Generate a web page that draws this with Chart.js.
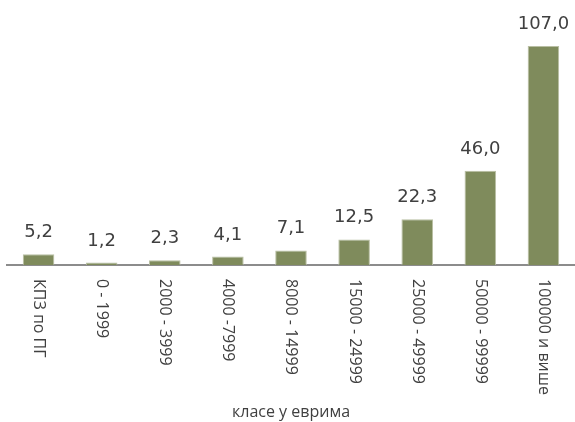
<!DOCTYPE html>
<html>
<head>
<meta charset="utf-8">
<script src="https://cdn.jsdelivr.net/npm/chart.js@4"></script>
<style>
  html, body { margin: 0; padding: 0; background: #fff; }
  #wrap { width: 575px; height: 422px; }
</style>
</head>
<body>
<div id="wrap"><canvas id="chart"></canvas></div>
<script>
// Data
const categories = ["КПЗ по ПГ", "0 - 1999", "2000 - 3999", "4000 -7999", "8000 - 14999",
                    "15000 - 24999", "25000 - 49999", "50000 - 99999", "100000 и више"];
const values     = [5.2, 1.2, 2.3, 4.1, 7.1, 12.5, 22.3, 46.0, 107.0];
const axisTitle  = "класе у еврима";

const barColor  = "#7f8b5c";
const textColor = "#404040";

// value labels above bars
const valueLabels = {
    id: "valueLabels",
    afterDatasetsDraw(chart) {
        const ctx = chart.ctx;
        const meta = chart.getDatasetMeta(0);
        ctx.save();
        ctx.font = "18px 'DejaVu Sans'";
        ctx.fillStyle = textColor;
        ctx.textAlign = "center";
        ctx.textBaseline = "alphabetic";
        meta.data.forEach((bar, i) => {
            ctx.fillText(values[i].toFixed(1).replace(".", ","), bar.x, bar.y - 17);
        });
        ctx.restore();
    }
};

// category labels, rotated to read top to bottom
const rotatedTicks = {
    id: "rotatedTicks",
    afterDraw(chart) {
        const ctx = chart.ctx;
        const x = chart.scales.x;
        ctx.save();
        ctx.font = "16px 'Open Sans'";
        ctx.fillStyle = textColor;
        ctx.textAlign = "left";
        ctx.textBaseline = "middle";
        categories.forEach((label, i) => {
            ctx.save();
            ctx.translate(x.getPixelForValue(i), x.top + 14);
            ctx.rotate(Math.PI / 2);
            ctx.fillText(label, 0, 0);
            ctx.restore();
        });
        ctx.restore();
    }
};

new Chart(document.getElementById("chart"), {
    type: "bar",
    data: {
        labels: categories,
        datasets: [{
            data: values,
            backgroundColor: barColor,
            borderColor: "#b9bfa3",
            borderWidth: 1,
            barPercentage: 0.5,
            categoryPercentage: 1.0
        }]
    },
    options: {
        responsive: true,
        maintainAspectRatio: false,
        animation: false,
        layout: { padding: { left: 7, right: 0, top: 19.4, bottom: 0 } },
        plugins: {
            legend: { display: false },
            tooltip: { enabled: false }
        },
        scales: {
            y: {
                display: false,
                min: 0,
                max: 120
            },
            x: {
                grid: { display: false },
                border: { display: true, color: "#8c8c8c", width: 2 },
                ticks: { display: false },
                title: {
                    display: true,
                    text: axisTitle,
                    color: textColor,
                    font: { family: "Open Sans", size: 16 },
                    padding: { top: 0, bottom: 0 }
                },
                afterFit(scale) {
                    scale.height = 157;
                }
            }
        }
    },
    plugins: [valueLabels, rotatedTicks]
});
</script>
</body>
</html>
